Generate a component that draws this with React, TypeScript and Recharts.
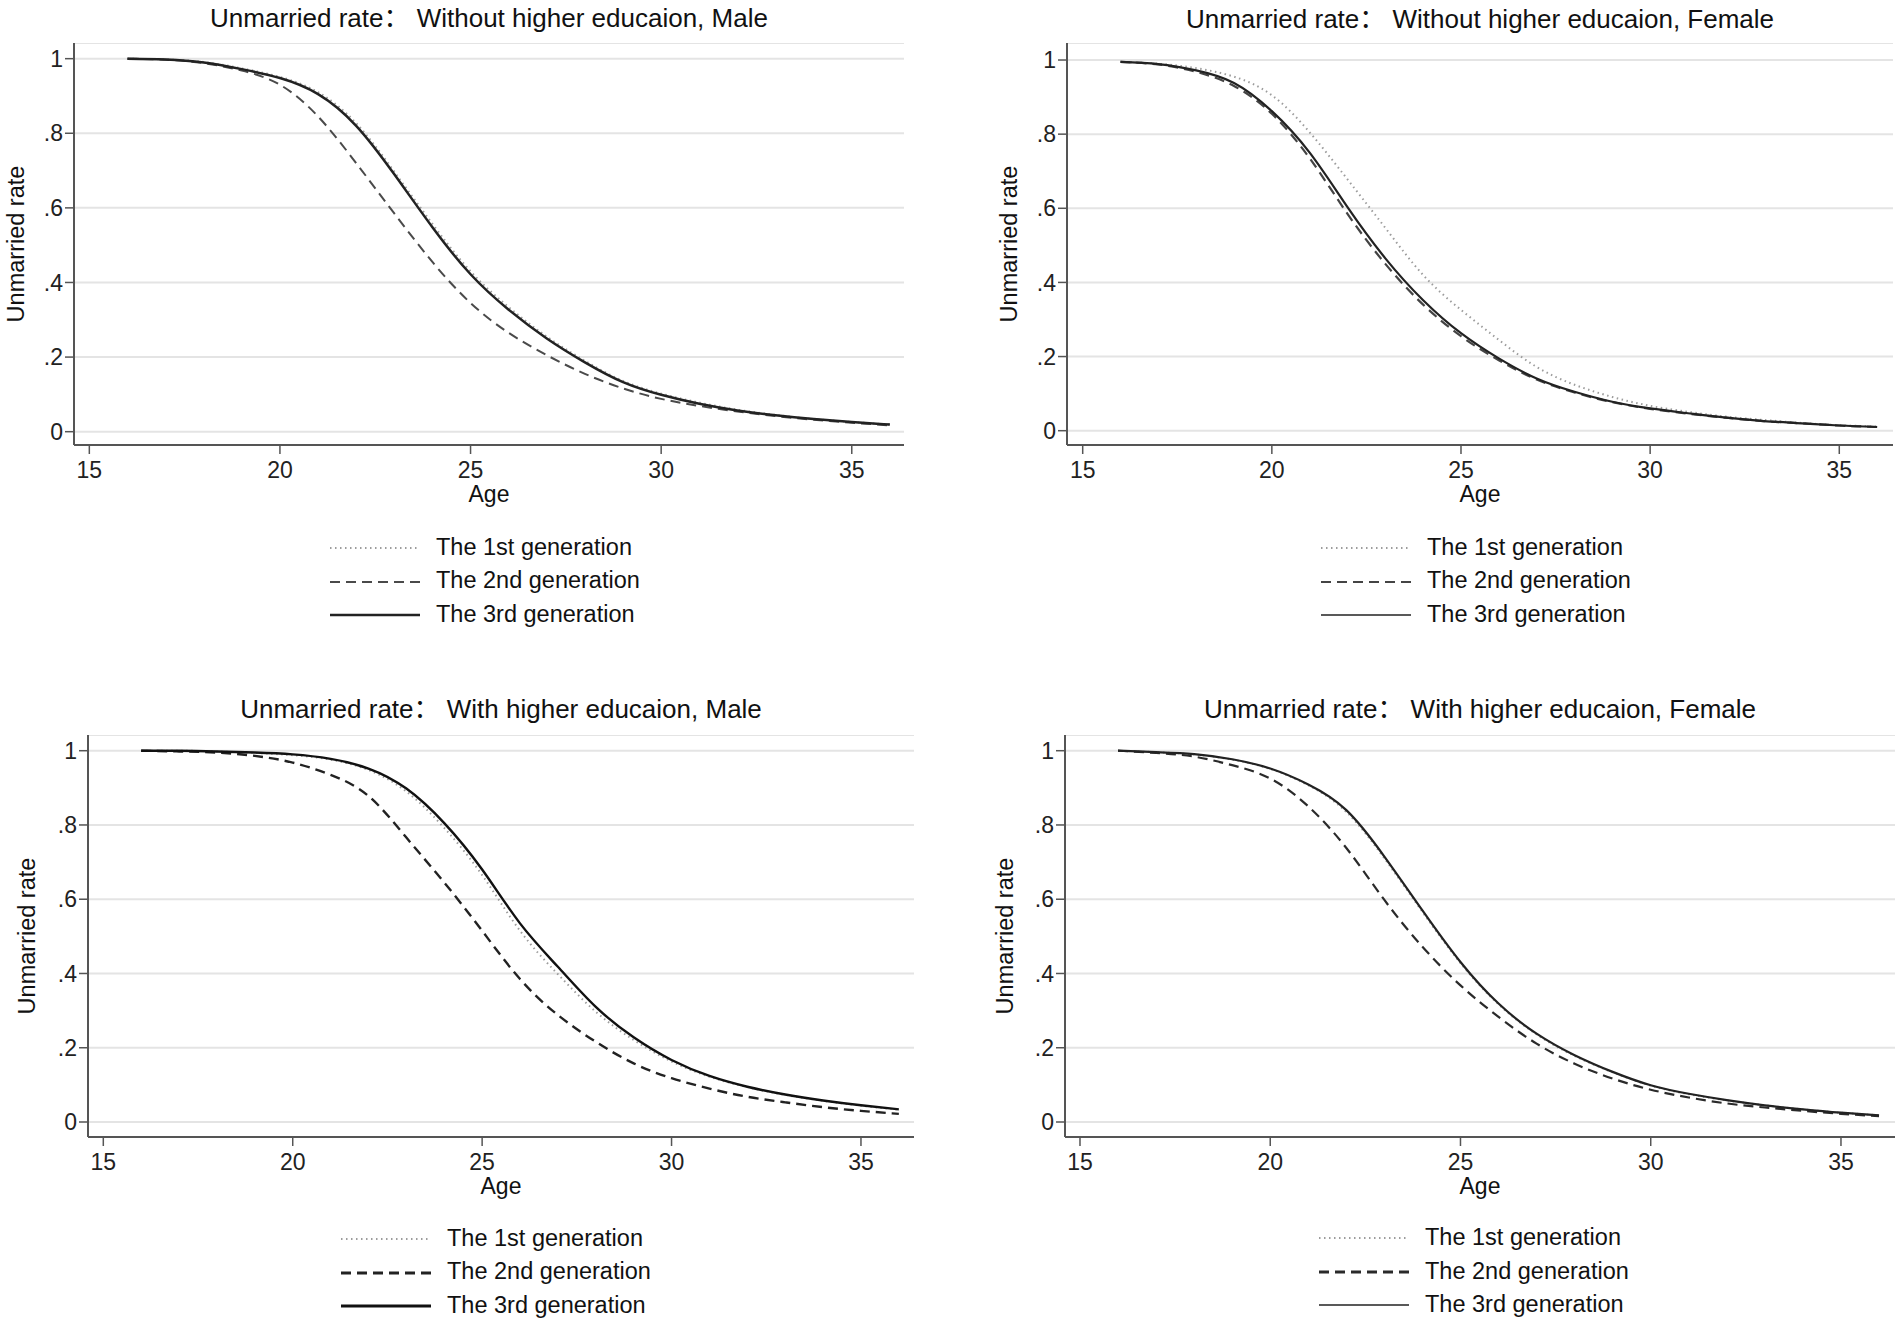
import React from "react"
import { LineChart, Line, XAxis, YAxis, CartesianGrid } from "recharts"

const FONT = "'Liberation Sans', Arial, 'Noto Sans CJK SC', sans-serif"

// ages on the x axis
const AGES = [16, 17, 18, 19, 20, 21, 22, 23, 24, 25, 26, 27, 28, 29, 30, 31, 32, 33, 34, 35, 36]
const AGE_TICKS = [15, 20, 25, 30, 35]
const RATE_TICKS = [0, 0.2, 0.4, 0.6, 0.8, 1]
const GENERATIONS = ["The 1st generation", "The 2nd generation", "The 3rd generation"]

const TITLE_TL = "Unmarried rate\uFF1A Without higher educaion, Male"
const TITLE_TR = "Unmarried rate\uFF1A Without higher educaion, Female"
const TITLE_BL = "Unmarried rate\uFF1A With higher educaion, Male"
const TITLE_BR = "Unmarried rate\uFF1A With higher educaion, Female"

// without higher education, male
const TL_FIRST = [1.0, 0.998, 0.991, 0.974, 0.951, 0.91, 0.827, 0.697, 0.557, 0.43, 0.334, 0.255, 0.19, 0.136, 0.102, 0.078, 0.059, 0.045, 0.034, 0.026, 0.019]
const TL_SECOND = [1.0, 0.997, 0.988, 0.968, 0.93, 0.845, 0.72, 0.585, 0.455, 0.345, 0.265, 0.205, 0.155, 0.116, 0.088, 0.069, 0.054, 0.042, 0.032, 0.024, 0.017]
const TL_THIRD = [1.0, 0.998, 0.99, 0.972, 0.948, 0.905, 0.82, 0.69, 0.548, 0.422, 0.327, 0.25, 0.186, 0.133, 0.099, 0.075, 0.057, 0.044, 0.034, 0.026, 0.019]

// without higher education, female
const TR_FIRST = [0.995, 0.99, 0.978, 0.955, 0.905, 0.805, 0.678, 0.547, 0.42, 0.326, 0.245, 0.172, 0.124, 0.091, 0.067, 0.051, 0.038, 0.029, 0.021, 0.015, 0.011]
const TR_SECOND = [0.995, 0.988, 0.968, 0.93, 0.855, 0.735, 0.585, 0.45, 0.34, 0.255, 0.19, 0.138, 0.103, 0.077, 0.059, 0.046, 0.035, 0.026, 0.02, 0.014, 0.01]
const TR_THIRD = [0.995, 0.989, 0.972, 0.938, 0.862, 0.75, 0.603, 0.465, 0.352, 0.263, 0.195, 0.141, 0.105, 0.078, 0.06, 0.047, 0.035, 0.026, 0.02, 0.014, 0.01]

// with higher education, male
const BL_FIRST = [1.0, 1.0, 0.998, 0.994, 0.988, 0.976, 0.948, 0.89, 0.792, 0.665, 0.515, 0.398, 0.297, 0.221, 0.163, 0.122, 0.094, 0.073, 0.057, 0.044, 0.033]
const BL_SECOND = [1.0, 0.998, 0.995, 0.986, 0.968, 0.935, 0.878, 0.766, 0.645, 0.515, 0.385, 0.288, 0.216, 0.158, 0.118, 0.09, 0.068, 0.053, 0.04, 0.03, 0.022]
const BL_THIRD = [1.0, 1.0, 0.998, 0.995, 0.99, 0.978, 0.952, 0.898, 0.805, 0.68, 0.535, 0.418, 0.31, 0.228, 0.167, 0.124, 0.095, 0.074, 0.058, 0.045, 0.034]

// with higher education, female
const BR_FIRST = [1.0, 0.996, 0.99, 0.976, 0.951, 0.907, 0.835, 0.71, 0.566, 0.428, 0.317, 0.236, 0.178, 0.134, 0.098, 0.075, 0.058, 0.045, 0.034, 0.025, 0.018]
const BR_SECOND = [1.0, 0.994, 0.984, 0.961, 0.925, 0.85, 0.738, 0.598, 0.472, 0.368, 0.283, 0.211, 0.157, 0.117, 0.087, 0.066, 0.05, 0.039, 0.03, 0.022, 0.016]
const BR_THIRD = [1.0, 0.996, 0.991, 0.977, 0.952, 0.909, 0.84, 0.715, 0.57, 0.431, 0.319, 0.238, 0.18, 0.135, 0.099, 0.076, 0.059, 0.045, 0.034, 0.025, 0.018]

type Stroke = { color: string; width: number; dash?: string; legendWidth: number }

type PanelSpec = {
  title: string
  first: number[]
  second: number[]
  third: number[]
  plot: { x: number; y: number; w: number; h: number }
  xDomain: [number, number]
  yDomain: [number, number]
  titleTop: number
  yLabelX: number
  ageTop: number
  legendX: number
  legendBaselines: number[]
  strokes: Stroke[]
}

const Y_W = 74
const X_H = 50

const DOTTED: Stroke = { color: "#9c9c9c", width: 2, dash: "1.5 3.5", legendWidth: 2 }

const PANELS: PanelSpec[] = [
  {
    title: TITLE_TL,
    first: TL_FIRST,
    second: TL_SECOND,
    third: TL_THIRD,
    plot: { x: 74, y: 43, w: 830, h: 402 },
    xDomain: [14.598, 36.37],
    yDomain: [-0.0357, 1.042],
    titleTop: 5,
    yLabelX: 16.2,
    ageTop: 482.5,
    legendX: 436,
    legendBaselines: [555, 588.5, 622],
    strokes: [
      DOTTED,
      { color: "#4a4a4a", width: 2, dash: "10 6", legendWidth: 2 },
      { color: "#222", width: 2.5, legendWidth: 2.6 },
    ],
  },
  {
    title: TITLE_TR,
    first: TR_FIRST,
    second: TR_SECOND,
    third: TR_THIRD,
    plot: { x: 1067, y: 43, w: 826, h: 402 },
    xDomain: [14.585, 36.42],
    yDomain: [-0.0386, 1.0459],
    titleTop: 6,
    yLabelX: 1008.5,
    ageTop: 482.5,
    legendX: 1427,
    legendBaselines: [555, 588.5, 622],
    strokes: [
      DOTTED,
      { color: "#444", width: 2.2, dash: "10 6", legendWidth: 2 },
      { color: "#222", width: 2.2, legendWidth: 1.5 },
    ],
  },
  {
    title: TITLE_BL,
    first: BL_FIRST,
    second: BL_SECOND,
    third: BL_THIRD,
    plot: { x: 88, y: 735, w: 826, h: 402 },
    xDomain: [14.596, 36.4],
    yDomain: [-0.0404, 1.0423],
    titleTop: 696,
    yLabelX: 26.9,
    ageTop: 1174.5,
    legendX: 447,
    legendBaselines: [1246, 1279.5, 1313],
    strokes: [
      DOTTED,
      { color: "#222", width: 2.4, dash: "10 6", legendWidth: 3 },
      { color: "#111", width: 2.4, legendWidth: 3 },
    ],
  },
  {
    title: TITLE_BR,
    first: BR_FIRST,
    second: BR_SECOND,
    third: BR_THIRD,
    plot: { x: 1065, y: 735, w: 830, h: 402 },
    xDomain: [14.606, 36.42],
    yDomain: [-0.0404, 1.0423],
    titleTop: 696,
    yLabelX: 1004.7,
    ageTop: 1174.5,
    legendX: 1425,
    legendBaselines: [1245, 1279, 1312],
    strokes: [
      DOTTED,
      { color: "#2a2a2a", width: 2.2, dash: "10 6", legendWidth: 3 },
      { color: "#222", width: 2.2, legendWidth: 1.5 },
    ],
  },
]

function formatRate(v: number) {
  if (v === 0) return "0"
  if (v === 1) return "1"
  return String(Number(v.toFixed(1))).replace(/^0/, "")
}

const KEYS = ["first", "second", "third"]

function Panel({ spec }: { spec: PanelSpec }) {
  const { plot } = spec
  const data = AGES.map((age, i) => ({
    age,
    first: spec.first[i],
    second: spec.second[i],
    third: spec.third[i],
  }))
  const cx = plot.x + plot.w / 2
  const tick = { fontSize: 23, fill: "#222", fontFamily: FONT }

  return (
    <>
      <div
        style={{
          position: "absolute",
          left: cx - 450,
          width: 900,
          top: spec.titleTop,
          textAlign: "center",
          fontSize: 26,
          lineHeight: "26px",
          whiteSpace: "pre",
        }}
      >
        {spec.title}
      </div>
      <div
        style={{
          position: "absolute",
          left: spec.yLabelX - 150,
          top: plot.y + plot.h / 2 - 12,
          width: 300,
          height: 24,
          lineHeight: "24px",
          fontSize: 23.5,
          textAlign: "center",
          transform: "rotate(-90deg)",
          whiteSpace: "nowrap",
        }}
      >
        Unmarried rate
      </div>
      <div style={{ position: "absolute", left: plot.x - Y_W, top: plot.y }}>
        <LineChart
          width={plot.w + Y_W}
          height={plot.h + X_H}
          data={data}
          margin={{ top: 0, right: 0, bottom: 0, left: 0 }}
        >
          <CartesianGrid vertical={false} stroke="#e4e4e4" strokeWidth={2} />
          <XAxis
            dataKey="age"
            type="number"
            domain={spec.xDomain}
            ticks={AGE_TICKS}
            allowDataOverflow
            interval={0}
            height={X_H}
            tickSize={9}
            tickMargin={8}
            axisLine={{ stroke: "#555", strokeWidth: 2 }}
            tickLine={{ stroke: "#555", strokeWidth: 1.5 }}
            tick={tick}
          />
          <YAxis
            type="number"
            domain={spec.yDomain}
            ticks={RATE_TICKS}
            allowDataOverflow
            interval={0}
            width={Y_W}
            tickSize={9}
            tickMargin={2}
            tickFormatter={formatRate}
            axisLine={{ stroke: "#555", strokeWidth: 2 }}
            tickLine={{ stroke: "#555", strokeWidth: 1.5 }}
            tick={tick}
          />
          {KEYS.map((k, i) => (
            <Line
              key={k}
              dataKey={k}
              type="natural"
              stroke={spec.strokes[i].color}
              strokeWidth={spec.strokes[i].width}
              strokeDasharray={spec.strokes[i].dash}
              dot={false}
              activeDot={false}
              isAnimationActive={false}
            />
          ))}
        </LineChart>
      </div>
      <div
        style={{
          position: "absolute",
          left: cx - 50,
          width: 100,
          top: spec.ageTop,
          textAlign: "center",
          fontSize: 23,
          lineHeight: "23px",
        }}
      >
        Age
      </div>
      {GENERATIONS.map((label, i) => {
        const s = spec.strokes[i]
        const b = spec.legendBaselines[i]
        return (
          <React.Fragment key={label}>
            <svg
              style={{ position: "absolute", left: spec.legendX - 106, top: b - 12 }}
              width={90}
              height={10}
            >
              <line
                x1={0}
                x2={90}
                y1={5}
                y2={5}
                stroke={s.color}
                strokeWidth={s.legendWidth}
                strokeDasharray={s.dash}
              />
            </svg>
            <div
              style={{
                position: "absolute",
                left: spec.legendX,
                top: b - 20.14,
                fontSize: 23.5,
                lineHeight: "24px",
                whiteSpace: "nowrap",
              }}
            >
              {label}
            </div>
          </React.Fragment>
        )
      })}
    </>
  )
}

export default function App() {
  return (
    <div
      style={{
        position: "absolute",
        left: 0,
        top: 0,
        width: 1901,
        height: 1328,
        background: "#fff",
        fontFamily: FONT,
        color: "#111",
        overflow: "hidden",
      }}
    >
      {PANELS.map((p) => (
        <Panel key={p.title} spec={p} />
      ))}
    </div>
  )
}
